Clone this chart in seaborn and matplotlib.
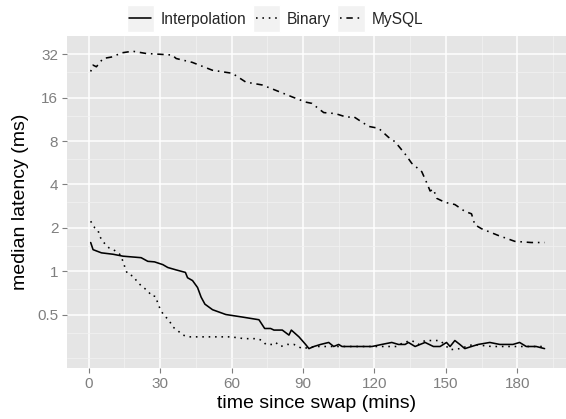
import numpy as np
import pandas as pd
import matplotlib
matplotlib.use("Agg")
import matplotlib.pyplot as plt
import seaborn as sns
from matplotlib.patches import Rectangle
from matplotlib.legend_handler import HandlerLine2D
from matplotlib.lines import Line2D

# data (minutes since swap, median latency in ms)
interp_x = [0.8, 1.8, 5.3, 10.2, 14.4, 22, 24.8, 27.6, 31.1, 33.2, 36.7, 40.6, 41.5, 43.6,
            45.7, 47.2, 48.8, 52, 57.6, 64.6, 71.5, 73.9, 76.4, 77.8, 81.3, 84.1, 85.1, 88.3,
            91.1, 92.5, 94.6, 97.4, 100.8, 102.9, 105, 106.4, 112, 116.2, 119, 123.1, 127.3,
            130.1, 132.9, 134.3, 137.1, 139.2, 141.3, 144.8, 147.6, 150.3, 151.8, 153.8,
            155.9, 158, 160.8, 163.6, 168.5, 172.7, 178.2, 181, 183.8, 188, 191.5]
interp_y = [1.58, 1.41, 1.34, 1.31, 1.27, 1.24, 1.17, 1.16, 1.11, 1.06, 1.02, 0.98, 0.90, 0.86,
            0.77, 0.66, 0.59, 0.54, 0.50, 0.48, 0.46, 0.40, 0.40, 0.39, 0.39, 0.36, 0.39, 0.35,
            0.31, 0.29, 0.30, 0.31, 0.32, 0.30, 0.31, 0.30, 0.30, 0.30, 0.30, 0.31, 0.32,
            0.31, 0.31, 0.32, 0.30, 0.31, 0.32, 0.30, 0.30, 0.32, 0.30, 0.33,
            0.31, 0.29, 0.30, 0.31, 0.32, 0.31, 0.31, 0.32, 0.30, 0.30, 0.29]

binary_x = [0.8, 2.5, 3.9, 4.6, 6.3, 8.5, 10.9, 13, 14.4, 15.2, 16.2, 18.8, 20.4, 22.5, 24.8,
            26.5, 28, 29, 30.1, 31.7, 33.6, 35.3, 37.1, 39.5, 42.3, 47.8, 54.1, 59.7, 65.3,
            70.8, 72.9, 74.4, 77.1, 78.5, 80.6, 83.4, 86.2, 89.7, 95, 99.5, 105, 112, 120,
            129.3, 132.2, 135.7, 138.5, 141.3, 144.5, 147.6, 151.8, 155.9, 161.5, 169.2,
            182.4, 191.5]
binary_y = [2.22, 2.0, 1.92, 1.74, 1.58, 1.45, 1.39, 1.31, 1.17, 1.06, 0.96, 0.92, 0.84, 0.78,
            0.73, 0.67, 0.67, 0.60, 0.54, 0.49, 0.46, 0.41, 0.39, 0.36, 0.35, 0.35, 0.35, 0.35,
            0.34, 0.34, 0.33, 0.31, 0.31, 0.32, 0.30, 0.31, 0.31, 0.29, 0.30, 0.30, 0.30,
            0.30, 0.30, 0.30, 0.32, 0.33, 0.31, 0.33, 0.33, 0.33, 0.285, 0.29, 0.31, 0.30,
            0.30, 0.30]

mysql_x = [0.8, 1.8, 3.2, 6, 10, 13.7, 18.4, 24.1, 29.7, 35.1, 36.7, 43.5, 51.9, 60.3, 66,
           72.8, 78.5, 85.4, 91.1, 93.7, 98.7, 103.6, 108.4, 111.3, 113.4, 117.6, 121.8,
           125.9, 128.7, 132.9, 135.7, 139.9, 142, 143.4, 144.8, 146.2, 149.7, 153.8, 158,
           160.8, 162.2, 165, 172, 179, 185.9, 191.5]
mysql_y = [24.3, 26.9, 26.2, 29.9, 30.7, 32.7, 33.6, 32.4, 32.0, 31.6, 29.9, 28.1, 24.8, 23.6,
           20.5, 19.6, 18.0, 16.2, 14.9, 14.6, 12.6, 12.4, 11.7, 11.8, 11.2, 10.1, 9.8, 8.5,
           7.9, 6.5, 5.6, 4.9, 4.1, 3.6, 3.7, 3.2, 3.0, 2.9, 2.6, 2.5, 2.1, 1.97, 1.77, 1.61,
           1.58, 1.58]

y_ticks = [0.5, 1, 2, 4, 8, 16, 32]
y_labels = ["0.5", "1", "2", "4", "8", "16", "32"]
y_minor = [0.25, 0.375, 0.75, 1.5, 3, 6, 12, 24]
x_ticks = [0, 30, 60, 90, 120, 150, 180]
x_minor = [15, 45, 75, 105, 135, 165, 195]

series = [("Interpolation", interp_x, interp_y, "-"),
          ("Binary", binary_x, binary_y, (0, (1, 3))),
          ("MySQL", mysql_x, mysql_y, (0, (1, 3, 4, 3)))]


class KeyHandler(HandlerLine2D):
    # grey key box behind each legend line, like ggplot
    def create_artists(self, legend, orig_handle, xdescent, ydescent, width, height,
                       fontsize, trans):
        box = Rectangle((-xdescent - 2, -ydescent - 6), width + 4, height + 12,
                        facecolor="#F2F2F2", edgecolor="white", transform=trans)
        arts = super().create_artists(legend, orig_handle, xdescent, ydescent, width,
                                      height, fontsize, trans)
        return [box] + arts


sns.set_theme(style="darkgrid")
plt.rcParams["font.family"] = ["Liberation Sans", "DejaVu Sans"]

fig = plt.figure(figsize=(5.66, 4.19), dpi=100)
ax = fig.add_subplot(111)
fig.subplots_adjust(left=0.119, right=1.0, top=0.914, bottom=0.122)
ax.set_facecolor("#E5E5E5")

handles = []
for name, xs, ys, ls in series:
    df = pd.DataFrame({"t": xs, "lat": ys})
    sns.lineplot(data=df, x="t", y="lat", ax=ax, color="black", linewidth=1.15,
                 linestyle=ls, estimator=None, sort=False)
    handles.append(Line2D([], [], color="black", linewidth=1.15, linestyle=ls))

ax.set_yscale("log", base=2)
ax.set_yticks(y_ticks)
ax.set_yticklabels(y_labels)
ax.set_yticks(y_minor, minor=True)
ax.set_xticks(x_ticks)
ax.set_xticks(x_minor, minor=True)
ax.set_xlim(-9, 200.5)
ax.set_ylim(2 ** -2.23, 2 ** 5.42)

ax.grid(which="major", color="white", linewidth=1.1)
ax.grid(which="minor", color="#F2F2F2", linewidth=0.5)
ax.set_axisbelow(True)
for s in ax.spines.values():
    s.set_visible(False)

ax.tick_params(which="major", length=3.5, width=0.8, color="#7F7F7F",
               labelcolor="#7F7F7F", labelsize=11, pad=3, bottom=True, left=True)
ax.tick_params(which="minor", length=0, labelleft=False, labelbottom=False)

ax.set_xlabel("time since swap (mins)", fontsize=14, color="black", labelpad=3)
ax.set_ylabel("median latency (ms)", fontsize=14, color="black", labelpad=6)

fig.legend(handles, [s[0] for s in series], loc="upper center",
           bbox_to_anchor=(0.488, 1.005), ncol=3, frameon=False, fontsize=11.2,
           handlelength=1.4, handletextpad=0.6, columnspacing=0.6,
           handler_map={Line2D: KeyHandler()})

fig.savefig("out.png", dpi=100)
